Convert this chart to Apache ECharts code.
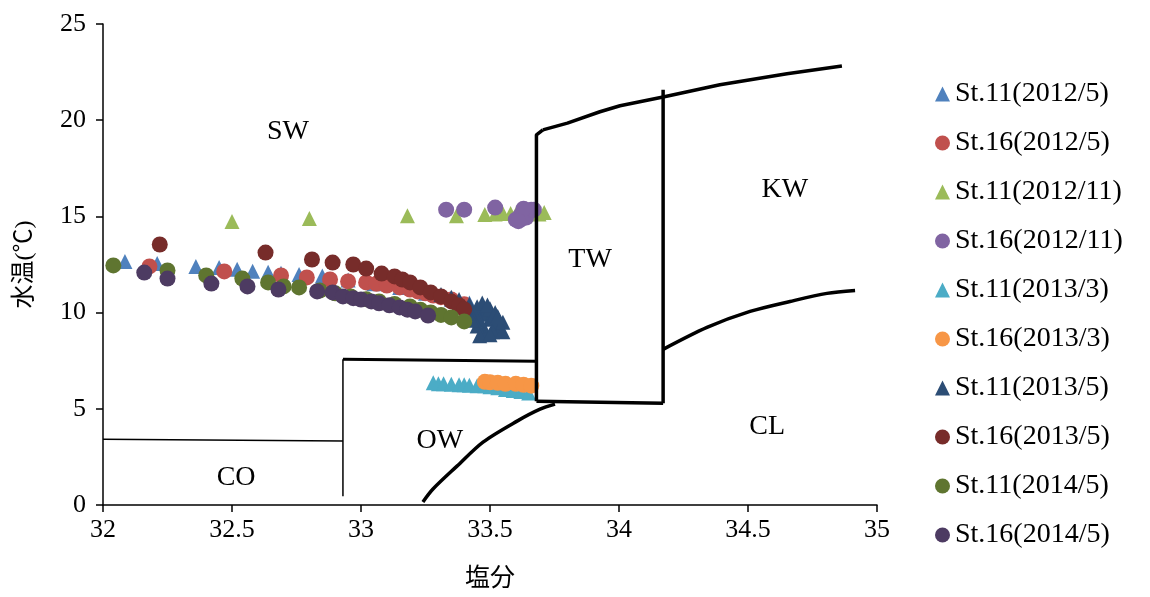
<!DOCTYPE html>
<html>
<head>
<meta charset="utf-8">
<script src="https://cdn.jsdelivr.net/npm/echarts@6/dist/echarts.min.js"></script>
<style>
html,body{margin:0;padding:0;background:#fff;}
#chart{width:1150px;height:597px;}
</style>
</head>
<body>
<div id="chart"></div>
<script>
// ---- data ----
const xTicks = [32, 32.5, 33, 33.5, 34, 34.5, 35];
const yTicks = [0, 5, 10, 15, 20, 25];

const seriesNames = ['St.11(2012/5)','St.16(2012/5)','St.11(2012/11)','St.16(2012/11)','St.11(2013/3)',
  'St.16(2013/3)','St.11(2013/5)','St.16(2013/5)','St.11(2014/5)','St.16(2014/5)'];
const seriesColors = ['#4F81BD','#C0504D','#9BBB59','#8064A2','#4BACC6','#F79646','#2C4D75','#772C2A','#5F7530','#4D3B62'];
const seriesSymbols = ['triangle','circle','triangle','circle','triangle','circle','triangle','circle','circle','circle'];

const s11_2012_5 = [[32.085,12.65],[32.21,12.55],[32.36,12.4],[32.45,12.35],[32.52,12.25],[32.58,12.15],[32.64,12.1],
  [32.69,12.05],[32.76,11.98],[32.85,11.9],[32.95,11.7],[33.05,11.5],[33.15,11.3],[33.25,11.0],[33.35,10.7],[33.42,10.5]];
const s16_2012_5 = [[32.18,12.4],[32.47,12.14],[32.69,11.93],[32.79,11.83],[32.88,11.72],[32.95,11.62],[33.02,11.57],
  [33.06,11.5],[33.1,11.41],[33.15,11.31],[33.19,11.2],[33.22,11.1],[33.25,11.0],[33.28,10.89],[33.31,10.8],[33.35,10.68],[33.4,10.43]];
const s11_2012_11 = [[32.5,14.73],[32.8,14.89],[33.18,15.04],[33.37,15.04],[33.48,15.1],[33.52,15.12],[33.55,15.15],
  [33.58,15.15],[33.6,15.1],[33.62,15.15],[33.66,15.15],[33.69,15.12],[33.71,15.2]];
const s16_2012_11 = [[33.33,15.35],[33.4,15.35],[33.52,15.46],[33.6,14.83],[33.62,15.09],[33.64,15.25],[33.64,14.94],
  [33.66,15.35],[33.67,15.35],[33.62,14.85],[33.63,15.4],[33.61,14.75]];
const s11_2013_3 = [[33.28,6.35],[33.3,6.3],[33.32,6.3],[33.35,6.28],[33.38,6.25],[33.4,6.25],[33.42,6.22],[33.45,6.2],
  [33.48,6.2],[33.5,6.15],[33.53,6.1],[33.56,6.0],[33.59,5.95],[33.62,5.9],[33.65,5.82]];
const s16_2013_3 = [[33.48,6.4],[33.5,6.38],[33.53,6.35],[33.56,6.3],[33.6,6.3],[33.63,6.25],[33.66,6.2]];
const s11_2013_5 = [[33.31,10.94],[33.35,10.8],[33.38,10.68],[33.42,10.43],[33.45,10.3],[33.46,10.17],[33.48,9.91],
  [33.47,10.5],[33.5,9.65],[33.52,9.39],[33.54,9.13],[33.48,9.1],[33.46,9.6],[33.5,10.2],[33.44,9.9],
  [33.42,10.1],[33.49,10.4],[33.52,10.0],[33.55,9.5],[33.47,8.95],[33.51,9.0],[33.45,9.3],[33.53,9.8],
  [33.38,10.5],[33.4,10.3],[33.43,9.6],[33.46,8.8],[33.5,8.85],[33.55,9.0]];
const s16_2013_5 = [[32.22,13.54],[32.63,13.12],[32.81,12.76],[32.89,12.6],[32.97,12.5],[33.02,12.29],[33.08,12.03],
  [33.13,11.88],[33.16,11.72],[33.19,11.57],[33.23,11.31],[33.27,11.05],[33.31,10.84],[33.35,10.58],[33.38,10.37],[33.4,10.17]];
const s11_2014_5 = [[32.04,12.45],[32.25,12.19],[32.4,11.93],[32.54,11.77],[32.64,11.57],[32.7,11.36],[32.76,11.31],
  [32.84,11.15],[32.9,11.0],[32.96,10.84],[33.02,10.7],[33.07,10.58],[33.13,10.45],[33.19,10.32],[33.23,10.15],
  [33.27,10.01],[33.31,9.88],[33.35,9.75],[33.4,9.54]];
const s16_2014_5 = [[32.16,12.08],[32.25,11.77],[32.42,11.51],[32.56,11.36],[32.68,11.2],[32.83,11.1],[32.89,11.05],
  [32.93,10.84],[32.97,10.75],[33.0,10.68],[33.04,10.58],[33.07,10.48],[33.11,10.38],[33.15,10.27],[33.18,10.15],
  [33.21,10.06],[33.26,9.85]];
const seriesData = [s11_2012_5,s16_2012_5,s11_2012_11,s16_2012_11,s11_2013_3,s16_2013_3,s11_2013_5,s16_2013_5,s11_2014_5,s16_2014_5];

// water-mass boundary lines (salinity, temperature)
const lineCO = [[32.0,3.42],[32.93,3.32]];
const lineVert33 = [[32.93,7.57],[32.93,0.45]];
const lineOWtop = [[32.93,7.57],[33.68,7.47]];
const lineTWleft = [[33.68,5.39],[33.68,19.24],[33.705,19.5]];
const lineKWtop = [[33.705,19.5],[33.8,19.85],[33.926,20.44],[34.004,20.75],[34.171,21.21],[34.391,21.84],[34.651,22.41],[34.864,22.82]];
const lineTWright = [[34.171,21.58],[34.171,5.29]];
const lineTWbottom = [[33.68,5.39],[34.171,5.29]];
const lineCL = [[34.171,8.09],[34.341,9.23],[34.508,10.06],[34.663,10.58],[34.806,11.0],[34.915,11.15]];
const lineOW = [[33.24,0.16],[33.279,0.83],[33.372,2.02],[33.473,3.27],[33.605,4.36],[33.694,4.98],[33.752,5.24]];

const regionLabels = [['SW',32.717,19.4],['KW',34.643,16.39],['TW',33.888,12.76],['CL',34.574,4.05],['OW',33.306,3.37],['CO',32.516,1.4]];

// ---- chart ----
const serif = "'Liberation Serif','Times New Roman','Noto Sans CJK JP',serif";
const chart = echarts.init(document.getElementById('chart'));
const series = [];
seriesData.forEach((d,i)=>{
  series.push({name:seriesNames[i],type:'scatter',data:d,symbol:seriesSymbols[i],
    symbolSize: seriesSymbols[i]==='triangle'?15:16,
    itemStyle:{color:seriesColors[i],opacity:1},z:2});
});
function bline(d,w){return {type:'line',data:d,symbol:'none',silent:true,z:5,
  lineStyle:{color:'#000',width:w},smooth:false};}
series.push(bline(lineCO,1.5));
series.push(bline(lineVert33,1.5));
series.push(bline(lineOWtop,3));
series.push(bline(lineTWleft,3.5));
series.push(bline(lineKWtop,3.5));
series.push(bline(lineTWright,3.5));
series.push(bline(lineTWbottom,3.5));
series.push(Object.assign(bline(lineCL,3.5),{smooth:0.3}));
series.push(Object.assign(bline(lineOW,3.5),{smooth:0.3}));
series.push({type:'scatter',silent:true,symbolSize:1,z:6,
  itemStyle:{color:'rgba(0,0,0,0)'},
  data:regionLabels.map(r=>({name:r[0],value:[r[1],r[2]]})),
  label:{show:true,position:'inside',formatter:p=>p.name,color:'#000',fontFamily:serif,fontSize:28,
    textBorderWidth:0,opacity:1}});

chart.setOption({
  animation:false,
  backgroundColor:'#fff',
  grid:{left:103,right:273,top:24,bottom:91,containLabel:false},
  xAxis:{type:'value',min:32,max:35,interval:0.5,
    name:'塩分',nameLocation:'middle',nameGap:62,
    nameTextStyle:{fontFamily:serif,fontSize:25,color:'#000'},
    axisLine:{show:true,lineStyle:{color:'#000',width:1.5}},
    axisTick:{show:true,length:7,lineStyle:{color:'#000',width:1.5}},
    axisLabel:{color:'#000',fontFamily:serif,fontSize:26,margin:12,
      formatter:v=>xTicks.includes(v)?String(v):''},
    splitLine:{show:false}},
  yAxis:{type:'value',min:0,max:25,interval:5,
    name:'水温(℃)',nameLocation:'middle',nameGap:66,nameRotate:90,
    nameTextStyle:{fontFamily:serif,fontSize:24,color:'#000'},
    axisLine:{show:true,lineStyle:{color:'#000',width:1.5}},
    axisTick:{show:true,length:7,lineStyle:{color:'#000',width:1.5}},
    axisLabel:{color:'#000',fontFamily:serif,fontSize:26,margin:17,
      formatter:v=>yTicks.includes(v)?String(v):''},
    splitLine:{show:false}},
  legend:{orient:'vertical',left:930,top:75,data:seriesNames.map((n,i)=>({name:n,icon:seriesSymbols[i]})),
    itemWidth:15,itemHeight:15,itemGap:21,
    textStyle:{fontFamily:serif,fontSize:28,color:'#000'}},
  series:series
});
</script>
</body>
</html>
